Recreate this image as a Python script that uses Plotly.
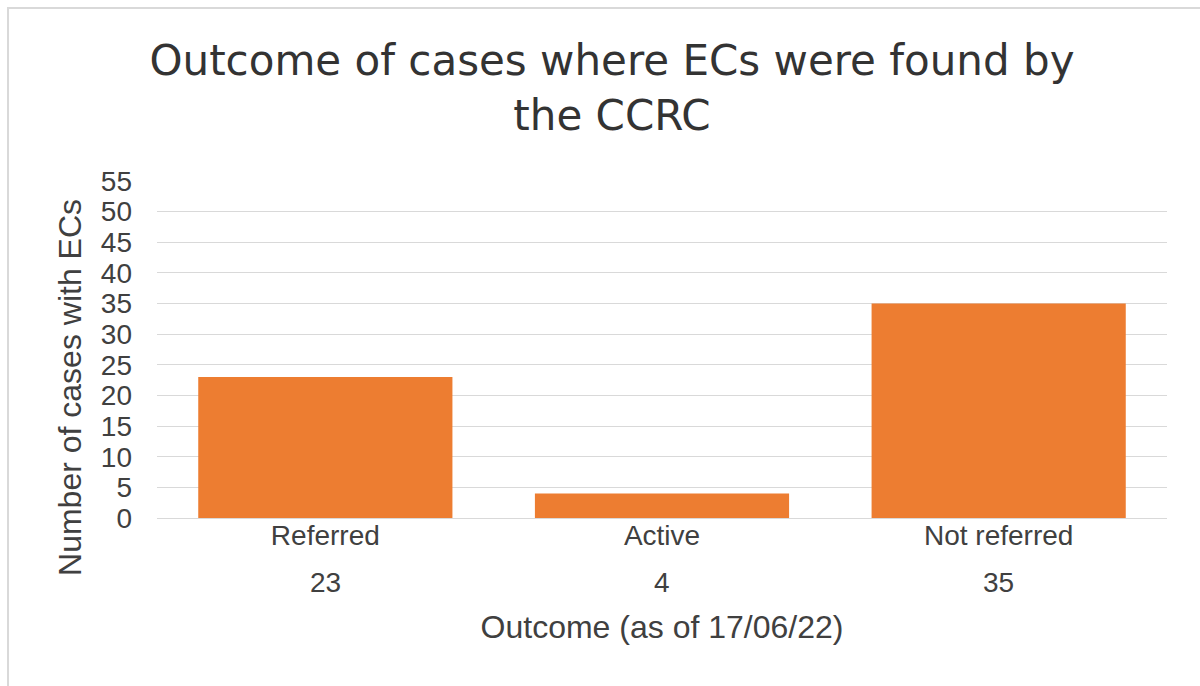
import plotly.graph_objects as go

# Data
outcomes = ["Referred", "Active", "Not referred"]
cases = [23, 4, 35]
y_ticks = list(range(0, 60, 5))

BAR_COLOR = "#ED7D31"
GRID_COLOR = "#D9D9D9"
TEXT_COLOR = "#404040"
FONT = "Liberation Sans, Arial, sans-serif"

fig = go.Figure()

fig.add_trace(
    go.Bar(
        x=outcomes,
        y=cases,
        marker=dict(color=BAR_COLOR, line=dict(width=0)),
        hovertemplate="%{x}: %{y}<extra></extra>",
    )
)

# Value row under the category labels
for name, val in zip(outcomes, cases):
    fig.add_annotation(
        x=name, y=0, xref="x", yref="y",
        text=str(val), showarrow=False,
        yanchor="middle", yshift=-64,
        font=dict(size=28, color=TEXT_COLOR, family=FONT),
    )

# y axis title (sits a bit below the plot centre in the original)
fig.add_annotation(
    x=-0.0861, y=0.386, xref="paper", yref="paper",
    text="Number of cases with ECs", textangle=-90, showarrow=False,
    xanchor="center", yanchor="middle",
    font=dict(size=32, color=TEXT_COLOR, family=FONT),
)

# Outer chart border
fig.add_shape(
    type="rect", xref="paper", yref="paper",
    x0=-0.1475, x1=1.05, y0=-0.6, y1=1.513,
    line=dict(color="#D9D9D9", width=2), fillcolor="rgba(0,0,0,0)",
    layer="above",
)

fig.update_layout(
    title=dict(
        text="Outcome of cases where ECs were found by<br>the CCRC",
        font=dict(size=42, color="#333333", family="DejaVu Sans, sans-serif"),
        x=0.51, xanchor="center", y=0.89, yanchor="top",
    ),
    xaxis=dict(
        title=dict(text="Outcome (as of 17/06/22)", standoff=66,
                   font=dict(size=32, color=TEXT_COLOR, family=FONT)),
        tickfont=dict(size=28, color=TEXT_COLOR, family=FONT),
        ticklabelstandoff=-8,
        showgrid=False,
        showline=True, linecolor=GRID_COLOR, linewidth=1,
        ticks="",
    ),
    yaxis=dict(
        range=[0, 55],
        tickvals=y_ticks,
        tickfont=dict(size=28, color=TEXT_COLOR, family=FONT),
        ticklabelstandoff=24,
        showgrid=True, gridcolor=GRID_COLOR, gridwidth=1,
        zeroline=False,
        ticks="",
    ),
    bargap=0.245,
    plot_bgcolor="white",
    paper_bgcolor="white",
    showlegend=False,
    width=1200,
    height=686,
    margin=dict(l=157, r=33, t=181, b=168),
)

fig.write_html(
    "out.html",
    config={"displayModeBar": False},
    post_script="document.body.style.margin='0';",
)
